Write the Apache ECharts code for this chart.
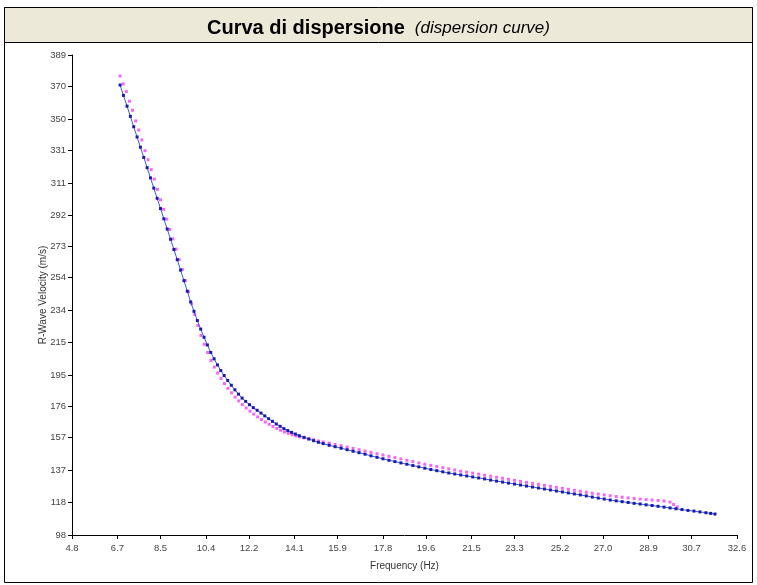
<!DOCTYPE html>
<html><head><meta charset="utf-8">
<script src="https://cdn.jsdelivr.net/npm/echarts@6/dist/echarts.min.js"></script>
<style>html,body{margin:0;padding:0;background:#fff}#c{width:757px;height:585px}</style>
</head><body><div id="c"></div>
<script>
const titleMain = 'Curva di dispersione';
const titleSub = '(dispersion curve)';
const xAxisName = 'Frequency (Hz)';
const yAxisName = 'R-Wave Velocity (m/s)';
const xTicks = [4.8, 6.7, 8.5, 10.4, 12.2, 14.1, 15.9, 17.8, 19.6, 21.5, 23.3, 25.2, 27.0, 28.9, 30.7, 32.6];
const yTicks = [98, 118, 137, 157, 176, 195, 215, 234, 254, 273, 292, 311, 331, 350, 370, 389];

// blue: fitted dispersion curve points [frequency Hz, velocity m/s]
const bluePoints = [
 [6.81,370.8],[6.95,364.5],[7.10,358.0],[7.24,351.8],[7.38,345.5],[7.52,339.3],[7.66,333.1],[7.80,326.9],[7.94,320.7],[8.08,314.5],
 [8.22,308.3],[8.36,302.1],[8.50,295.9],[8.64,289.7],[8.78,283.5],[8.92,277.3],[9.06,271.1],[9.20,264.9],[9.34,258.6],[9.48,252.2],
 [9.62,245.8],[9.76,239.3],[9.90,233.6],[10.04,228.0],[10.18,222.8],[10.32,217.9],[10.46,213.2],[10.60,208.7],[10.74,204.8],[10.88,201.1],
 [11.02,197.7],[11.16,194.7],[11.31,191.7],[11.46,188.8],[11.61,186.0],[11.76,183.4],[11.91,181.0],[12.06,179.0],[12.22,177.0],[12.38,175.2],
 [12.54,173.6],[12.70,171.9],[12.86,170.2],[13.02,168.5],[13.18,166.9],[13.34,165.3],[13.50,163.9],[13.66,162.5],[13.82,161.3],[13.98,160.2],
 [14.14,159.2],[14.30,158.2],[14.50,157.2],[14.70,156.2],[14.90,155.2],[15.10,154.2],[15.30,153.4],[15.55,152.4],[15.80,151.5],[16.05,150.6],
 [16.30,149.7],[16.55,148.8],[16.80,147.9],[17.05,147.0],[17.30,146.0],[17.55,145.1],[17.80,144.2],[18.05,143.3],[18.30,142.5],[18.55,141.7],
 [18.80,140.9],[19.05,140.1],[19.30,139.3],[19.55,138.5],[19.80,137.7],[20.05,137.0],[20.30,136.3],[20.55,135.6],[20.80,135.0],[21.05,134.4],
 [21.30,133.8],[21.55,133.2],[21.80,132.6],[22.05,132.0],[22.30,131.3],[22.55,130.7],[22.80,130.1],[23.05,129.5],[23.30,128.9],[23.55,128.3],
 [23.80,127.7],[24.05,127.1],[24.30,126.5],[24.55,125.9],[24.80,125.3],[25.05,124.7],[25.30,124.1],[25.55,123.5],[25.80,122.9],[26.05,122.3],
 [26.30,121.7],[26.55,121.0],[26.80,120.4],[27.05,119.8],[27.30,119.2],[27.55,118.7],[27.80,118.2],[28.05,117.7],[28.30,117.2],[28.55,116.8],
 [28.80,116.3],[29.05,115.9],[29.30,115.4],[29.55,114.9],[29.80,114.4],[30.05,113.9],[30.30,113.4],[30.55,112.9],[30.80,112.5],[31.05,112.0],
 [31.30,111.5],[31.50,111.1],[31.68,110.7]
];

// magenta: experimental dispersion points [frequency Hz, velocity m/s]
const magentaPoints = [
 [6.81,376.3],[6.94,371.5],[7.07,366.8],[7.20,361.0],[7.33,355.5],[7.46,349.0],[7.59,343.5],[7.72,337.5],[7.85,331.0],[7.98,325.5],
 [8.11,319.5],[8.24,313.8],[8.37,307.5],[8.50,301.2],[8.63,295.4],[8.76,289.5],[8.89,283.2],[9.02,277.5],[9.15,271.3],[9.28,265.0],
 [9.41,259.0],[9.54,252.3],[9.67,245.4],[9.80,238.2],[9.93,231.7],[10.06,225.0],[10.19,219.0],[10.33,213.6],[10.47,208.6],[10.61,203.8],
 [10.75,199.8],[10.89,196.2],[11.03,192.9],[11.17,189.8],[11.32,186.9],[11.47,184.2],[11.62,181.6],[11.77,179.3],[11.92,177.1],[12.08,175.0],
 [12.24,173.1],[12.40,171.3],[12.56,169.6],[12.72,168.0],[12.88,166.5],[13.04,165.1],[13.20,163.8],[13.36,162.6],[13.52,161.5],[13.68,160.5],
 [13.84,159.6],[14.00,158.8],[14.16,158.1],[14.32,157.5],[14.50,156.9],[14.70,156.3],[14.90,155.7],[15.10,155.0],[15.30,154.4],[15.55,153.7],
 [15.80,152.9],[16.05,152.1],[16.30,151.3],[16.55,150.5],[16.80,149.7],[17.05,148.9],[17.30,148.1],[17.55,147.3],[17.80,146.5],[18.05,145.7],
 [18.30,144.9],[18.55,144.1],[18.80,143.3],[19.05,142.5],[19.30,141.7],[19.55,140.9],[19.80,140.2],[20.05,139.5],[20.30,138.8],[20.55,138.1],
 [20.80,137.4],[21.05,136.7],[21.30,136.1],[21.55,135.5],[21.80,134.9],[22.05,134.2],[22.30,133.6],[22.55,133.0],[22.80,132.4],[23.05,131.8],
 [23.30,131.2],[23.55,130.5],[23.80,129.9],[24.05,129.3],[24.30,128.7],[24.55,128.1],[24.80,127.5],[25.05,126.9],[25.30,126.3],[25.55,125.7],
 [25.80,125.1],[26.05,124.5],[26.30,123.9],[26.55,123.3],[26.80,122.8],[27.05,122.3],[27.30,121.8],[27.55,121.3],[27.80,120.9],[28.05,120.5],
 [28.30,120.1],[28.55,119.8],[28.80,119.5],[29.05,119.2],[29.30,118.9],[29.55,118.6],[29.80,118.0],[29.95,116.5],[30.10,115.0]
];

const chart = echarts.init(document.getElementById('c'), null, {renderer: 'canvas'});
const axisFont = {color: '#444', fontSize: 9.5, fontFamily: 'Liberation Sans'};
chart.setOption({
  animation: false,
  backgroundColor: '#fff',
  graphic: [
    {type: 'rect', z: -10, shape: {x: 4.5, y: 7.5, width: 748, height: 575}, style: {fill: '#fff', stroke: '#000', lineWidth: 1}},
    {type: 'rect', z: -9, shape: {x: 4.5, y: 7.5, width: 748, height: 35}, style: {fill: '#ECE9D8', stroke: '#000', lineWidth: 1}}
  ],
  title: {
    left: 'center', top: 13,
    text: '{a|' + titleMain + '}  {b|' + titleSub + '}',
    textStyle: {
      rich: {
        a: {fontFamily: 'Liberation Sans', fontWeight: 'bold', fontSize: 20, color: '#000'},
        b: {fontFamily: 'Liberation Sans', fontStyle: 'italic', fontWeight: 'normal', fontSize: 17, color: '#000'}
      }
    }
  },
  grid: {left: 72, right: 20, top: 55, bottom: 50, containLabel: false},
  xAxis: {
    type: 'value', min: 4.8, max: 32.6,
    name: xAxisName, nameLocation: 'middle', nameGap: 26, nameMoveOverlap: false,
    nameTextStyle: {color: '#333', fontSize: 10, fontFamily: 'Liberation Sans'},
    axisLine: {lineStyle: {color: '#000', width: 1}},
    axisTick: {customValues: xTicks, length: 4, lineStyle: {color: '#000'}},
    axisLabel: Object.assign({customValues: xTicks, margin: 8, formatter: v => v.toFixed(1)}, axisFont),
    splitLine: {show: false}
  },
  yAxis: {
    type: 'value', min: 98, max: 389,
    name: yAxisName, nameLocation: 'middle', nameGap: 29, nameRotate: 90, nameMoveOverlap: false,
    nameTextStyle: {color: '#333', fontSize: 10, fontFamily: 'Liberation Sans', verticalAlign: 'middle'},
    axisLine: {show: true, lineStyle: {color: '#000', width: 1}},
    axisTick: {show: true, customValues: yTicks, length: 4, lineStyle: {color: '#000'}},
    axisLabel: Object.assign({customValues: yTicks, margin: 6, formatter: v => String(v)}, axisFont),
    splitLine: {show: false}
  },
  series: [
    {
      name: 'experimental', type: 'scatter', data: magentaPoints,
      symbol: 'rect', symbolSize: 3,
      itemStyle: {color: '#EE44EE'}, z: 2
    },
    {
      name: 'fitted', type: 'line', data: bluePoints,
      symbol: 'rect', symbolSize: 3, showSymbol: true, showAllSymbol: true,
      lineStyle: {color: '#3A5BE0', width: 1},
      itemStyle: {color: '#1A1AA8'}, z: 3
    }
  ]
});
</script></body></html>
